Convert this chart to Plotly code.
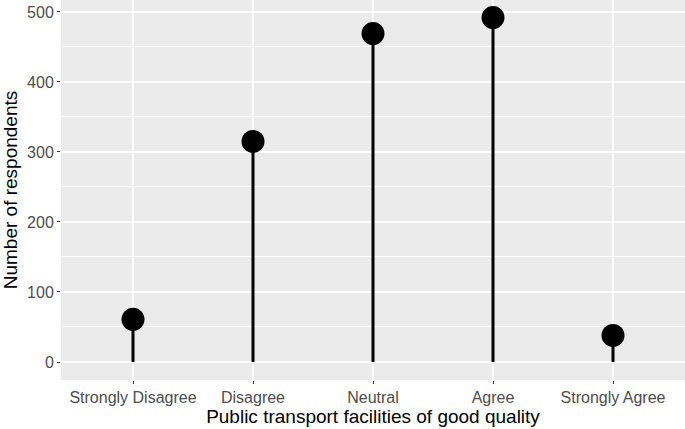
import plotly.graph_objects as go

categories = ["Strongly Disagree", "Disagree", "Neutral", "Agree", "Strongly Agree"]
respondents = [61, 315, 469, 492, 38]

stem_x: list = []
stem_y: list = []
for cat, val in zip(categories, respondents):
    stem_x.extend([cat, cat, None])
    stem_y.extend([0, val, None])

fig = go.Figure()
fig.add_trace(go.Scatter(x=stem_x, y=stem_y, mode="lines", line={"color": "black", "width": 3}, showlegend=False))
fig.add_trace(
    go.Scatter(x=categories, y=respondents, mode="markers", marker={"color": "black", "size": 23}, showlegend=False)
)

fig.update_layout(
    width=685,
    height=429,
    margin={"l": 61, "r": 0, "t": 0, "b": 49},
    paper_bgcolor="white",
    plot_bgcolor="#EBEBEB",
    font={"family": "Liberation Sans, Arial, sans-serif", "color": "#4D4D4D", "size": 15},
    xaxis={
        "categoryorder": "array",
        "categoryarray": categories,
        "range": [-0.6, 4.6],
        "automargin": False,
        "showgrid": True,
        "gridcolor": "white",
        "gridwidth": 1.8,
        "zeroline": False,
        "ticks": "outside",
        "ticklen": 3,
        "tickwidth": 1.2,
        "tickcolor": "#333333",
        "tickfont": {"size": 16, "color": "#4D4D4D"},
        "title": {"text": "Public transport facilities of good quality", "font": {"size": 19, "color": "black"}, "standoff": 2},
    },
    yaxis={
        "range": [-25.7, 517],
        "tickvals": [0, 100, 200, 300, 400, 500],
        "automargin": False,
        "showgrid": True,
        "gridcolor": "white",
        "gridwidth": 1.8,
        "zeroline": False,
        "ticks": "outside",
        "ticklen": 3,
        "tickwidth": 1.2,
        "tickcolor": "#333333",
        "tickfont": {"size": 16, "color": "#4D4D4D"},
        "minor": {"tickvals": [50, 150, 250, 350, 450], "showgrid": True, "gridcolor": "white", "gridwidth": 0.8, "ticks": ""},
        "title": {"text": "Number of respondents", "font": {"size": 19, "color": "black"}, "standoff": 4},
    },
)

# the page body has a default 8px margin; drop it so the figure sits at the window corner
fig.write_html(
    "out.html",
    config={"displayModeBar": False},
    post_script="document.body.style.margin = '0';",
)
